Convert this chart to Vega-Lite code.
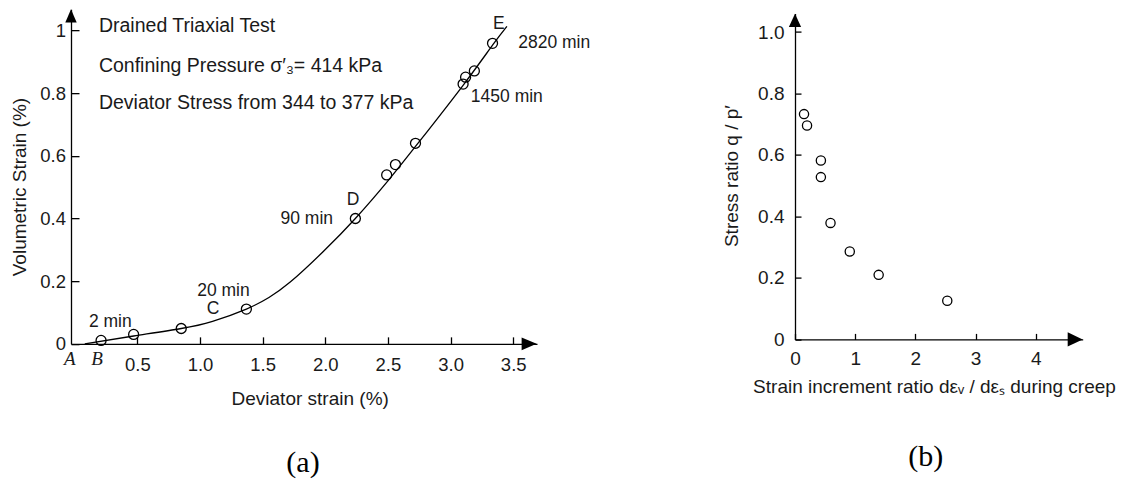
{
  "$schema": "https://vega.github.io/schema/vega-lite/v6.json",
  "background": "white",
  "padding": {"left": 10, "top": 9, "right": 5, "bottom": 0},
  "bounds": "flush",
  "center": true,
  "spacing": 258,
  "config": {
    "view": {"stroke": null},
    "font": "Liberation Sans",
    "axis": {
      "grid": false,
      "domainColor": "black",
      "domainWidth": 1.3,
      "tickColor": "black",
      "tickWidth": 1.3,
      "labelFont": "Liberation Sans",
      "labelColor": "#1a1a1a",
      "labelFontSize": 18.5,
      "labelFlush": false,
      "labelOverlap": false,
      "titleFont": "Liberation Sans",
      "titleFontWeight": "normal",
      "titleFontSize": 19,
      "titleColor": "#1a1a1a"
    }
  },
  "datasets": {
    "curveA": [
      {"x": 0.08, "y": 0}, {"x": 0.47, "y": 0.025}, {"x": 0.85, "y": 0.049}, {"x": 1.1, "y": 0.072},
      {"x": 1.37, "y": 0.111}, {"x": 1.55, "y": 0.148}, {"x": 1.72, "y": 0.197}, {"x": 1.98, "y": 0.293},
      {"x": 2.24, "y": 0.4}, {"x": 2.5, "y": 0.52}, {"x": 2.75, "y": 0.645}, {"x": 3.1, "y": 0.825},
      {"x": 3.335, "y": 0.953}, {"x": 3.45, "y": 1.013}
    ],
    "pointsA": [
      {"x": 0.21, "y": 0.011}, {"x": 0.47, "y": 0.03}, {"x": 0.85, "y": 0.049}, {"x": 1.37, "y": 0.111},
      {"x": 2.24, "y": 0.4}, {"x": 2.49, "y": 0.539}, {"x": 2.56, "y": 0.572}, {"x": 2.72, "y": 0.64},
      {"x": 3.1, "y": 0.829}, {"x": 3.12, "y": 0.851}, {"x": 3.19, "y": 0.871}, {"x": 3.335, "y": 0.959}
    ],
    "headerA": [
      {"x": 0.193, "y": 1.015, "text": "Drained Triaxial Test"},
      {"x": 0.193, "y": 0.887, "text": "Confining Pressure σ′₃= 414 kPa"},
      {"x": 0.193, "y": 0.77, "text": "Deviator Stress from 344 to 377 kPa"}
    ],
    "leftNotesA": [
      {"x": 3.54, "y": 0.961, "text": "2820 min"},
      {"x": 3.162, "y": 0.789, "text": "1450 min"}
    ],
    "centerNotesA": [
      {"x": 0.284, "y": 0.069, "text": "2 min"},
      {"x": 1.187, "y": 0.168, "text": "20 min"},
      {"x": 1.104, "y": 0.11, "text": "C"},
      {"x": 2.222, "y": 0.459, "text": "D"},
      {"x": 3.386, "y": 1.021, "text": "E"}
    ],
    "rightNotesA": [
      {"x": 2.062, "y": 0.399, "text": "90 min"}
    ],
    "italicA": [
      {"x": -0.04, "y": -0.048, "text": "A"},
      {"x": 0.177, "y": -0.048, "text": "B"}
    ],
    "xArrowA": [{"x": 3.627, "y": 0}],
    "yArrowA": [{"x": -0.03, "y": 1.0466}],
    "pointsB": [
      {"x": 0.15, "y": 0.733}, {"x": 0.2, "y": 0.696}, {"x": 0.43, "y": 0.582}, {"x": 0.43, "y": 0.528},
      {"x": 0.59, "y": 0.379}, {"x": 0.91, "y": 0.286}, {"x": 1.39, "y": 0.21}, {"x": 2.53, "y": 0.126}
    ],
    "xArrowB": [{"x": 4.655, "y": 0}],
    "yArrowB": [{"x": 0, "y": 1.038}]
  },
  "hconcat": [
    {
      "width": 466,
      "height": 334.7,
      "title": {
        "text": "(a)", "orient": "bottom", "anchor": "middle", "frame": "group",
        "font": "Liberation Serif", "fontSize": 30, "fontWeight": "normal", "color": "black",
        "offset": 40, "dx": -1
      },
      "encoding": {
        "x": {
          "field": "x", "type": "quantitative",
          "scale": {"domain": [-0.03, 3.69], "nice": false, "zero": false},
          "axis": {
            "values": [0.5, 1, 1.5, 2, 2.5, 3, 3.5], "format": ".1f",
            "title": "Deviator strain (%)", "titleX": 238.7, "titleY": 54.3, "titleBaseline": "middle",
            "tickSize": -7, "labelPadding": 18.5, "labelDx": 5
          }
        },
        "y": {
          "field": "y", "type": "quantitative",
          "scale": {"domain": [0, 1.068], "nice": false, "zero": false},
          "axis": {
            "values": [0, 0.2, 0.4, 0.6, 0.8, 1], "format": "~g",
            "title": "Volumetric Strain (%)", "titleX": -51.4, "titleY": 177.4, "titleBaseline": "middle",
            "tickSize": -8, "labelPadding": 13.5
          }
        }
      },
      "layer": [
        {"data": {"name": "curveA"}, "mark": {"type": "line", "interpolate": "natural", "color": "black", "strokeWidth": 1.3}},
        {"data": {"name": "pointsA"}, "mark": {"type": "point", "shape": "circle", "filled": false, "stroke": "black", "strokeWidth": 1.3, "size": 100, "opacity": 1}},
        {"data": {"name": "headerA"}, "mark": {"type": "text", "align": "left", "baseline": "middle", "fontSize": 19.5, "color": "#1a1a1a"}, "encoding": {"text": {"field": "text"}}},
        {"data": {"name": "leftNotesA"}, "mark": {"type": "text", "align": "left", "baseline": "middle", "fontSize": 17.5, "color": "#1a1a1a"}, "encoding": {"text": {"field": "text"}}},
        {"data": {"name": "centerNotesA"}, "mark": {"type": "text", "align": "center", "baseline": "middle", "fontSize": 17.5, "color": "#1a1a1a"}, "encoding": {"text": {"field": "text"}}},
        {"data": {"name": "rightNotesA"}, "mark": {"type": "text", "align": "right", "baseline": "middle", "fontSize": 17.5, "color": "#1a1a1a"}, "encoding": {"text": {"field": "text"}}},
        {"data": {"name": "italicA"}, "mark": {"type": "text", "align": "center", "baseline": "middle", "font": "Liberation Serif", "fontStyle": "italic", "fontSize": 19, "color": "#1a1a1a"}, "encoding": {"text": {"field": "text"}}},
        {"data": {"name": "xArrowA"}, "mark": {"type": "point", "shape": "M-1,-0.85L1,0L-1,0.85Z", "filled": true, "color": "black", "size": 225, "opacity": 1}},
        {"data": {"name": "yArrowA"}, "mark": {"type": "point", "shape": "M-0.85,1L0,-1L0.85,1Z", "filled": true, "color": "black", "size": 180, "opacity": 1}}
      ]
    },
    {
      "width": 287.7,
      "height": 325.8,
      "title": {
        "text": "(b)", "orient": "bottom", "anchor": "middle", "frame": "group",
        "font": "Liberation Serif", "fontSize": 30, "fontWeight": "normal", "color": "black",
        "offset": 46, "dx": -13
      },
      "encoding": {
        "x": {
          "field": "x", "type": "quantitative",
          "scale": {"domain": [0, 4.78], "nice": false, "zero": false},
          "axis": {
            "values": [0, 1, 2, 3, 4], "format": "d",
            "title": "Strain increment ratio dεᵥ / dεₛ during creep", "titleX": 139, "titleY": 47, "titleBaseline": "middle",
            "tickSize": -6, "labelPadding": 16, "labelFontSize": 19
          }
        },
        "y": {
          "field": "y", "type": "quantitative",
          "scale": {"domain": [0, 1.06], "nice": false, "zero": false},
          "axis": {
            "values": [0, 0.2, 0.4, 0.6, 0.8, 1],
            "labelExpr": "datum.value === 0 ? '0' : format(datum.value, '.1f')",
            "title": "Stress ratio q / p′", "titleX": -64, "titleY": 162, "titleBaseline": "middle",
            "tickSize": -6, "labelPadding": 17, "labelFontSize": 19
          }
        }
      },
      "layer": [
        {"data": {"name": "pointsB"}, "mark": {"type": "point", "shape": "circle", "filled": false, "stroke": "black", "strokeWidth": 1.3, "size": 85, "opacity": 1}},
        {"data": {"name": "xArrowB"}, "mark": {"type": "point", "shape": "M-1,-0.95L1,0L-1,0.95Z", "filled": true, "color": "black", "size": 225, "opacity": 1}},
        {"data": {"name": "yArrowB"}, "mark": {"type": "point", "shape": "M-0.92,1L0,-1L0.92,1Z", "filled": true, "color": "black", "size": 177, "opacity": 1}}
      ]
    }
  ]
}
